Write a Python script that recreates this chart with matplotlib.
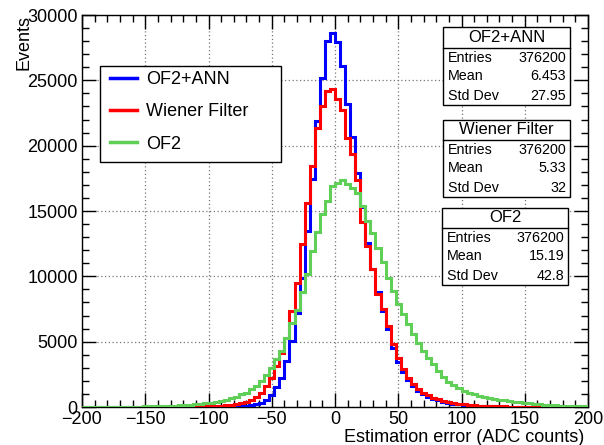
import numpy as np
import matplotlib
matplotlib.use("Agg")
import matplotlib.pyplot as plt
from matplotlib.patches import Rectangle
from matplotlib.lines import Line2D
from matplotlib.ticker import MultipleLocator

plt.rcParams['font.family'] = ['Liberation Sans', 'DejaVu Sans']

# 100 bins of width 4 from -200 to 200
edges = np.arange(-200, 201, 4)

ann = [0, 0, 0, 0, 0, 0, 0, 0, 0, 0,
       0, 0, 2, 2, 3, 3, 4, 5, 6, 7,
       9, 11, 13, 15, 18, 20, 24, 28, 32, 36,
       45, 60, 85, 130, 200, 330, 550, 950, 1500, 2250,
       3500, 5050, 7200, 9900, 13470, 17420, 21880, 25200, 28000, 28640,
       27900, 26100, 23200, 20700, 17900, 15300, 12570, 10560, 8770, 7350,
       5970, 4500, 3450, 2650, 2050, 1580, 1250, 980, 770, 620,
       510, 410, 330, 260, 210, 170, 140, 110, 90, 72,
       58, 47, 38, 31, 25, 20, 16, 13, 10, 8,
       6, 5, 4, 3, 2, 2, 1, 1, 1, 0]

wiener = [0, 0, 0, 0, 1, 1, 1, 2, 2, 3,
          3, 4, 5, 6, 7, 8, 10, 12, 14, 17,
          20, 25, 30, 38, 46, 56, 70, 90, 120, 160,
          220, 300, 410, 550, 750, 1100, 1610, 2240, 3140, 4150,
          5300, 7345, 9510, 12450, 15630, 18440, 21370, 23030, 24180, 24350,
          23540, 22700, 20600, 19330, 17400, 14180, 12300, 10560, 8640, 7500,
          6200, 4800, 3770, 2880, 2250, 1740, 1350, 1100, 890, 710,
          590, 460, 380, 300, 240, 200, 165, 135, 110, 90,
          75, 62, 51, 42, 35, 29, 24, 20, 16, 13,
          11, 9, 7, 6, 5, 4, 3, 2, 2, 1]

of2 = [10, 11, 12, 13, 14, 16, 18, 20, 22, 25,
       30, 35, 40, 46, 54, 63, 75, 90, 108, 130,
       150, 172, 200, 232, 270, 320, 390, 470, 560, 660,
       790, 960, 1100, 1340, 1600, 1990, 2450, 3000, 3700, 4300,
       5300, 6400, 7400, 8800, 10150, 11940, 13400, 14800, 15800, 16900,
       17160, 17340, 17090, 16780, 16400, 15400, 14230, 13310, 12190, 11090,
       9890, 8880, 7860, 7090, 6330, 5610, 4920, 4280, 3770, 3260,
       2750, 2300, 1950, 1650, 1420, 1250, 1100, 960, 860, 770,
       690, 620, 560, 500, 450, 400, 350, 310, 270, 235,
       200, 175, 150, 130, 110, 95, 80, 70, 60, 50]

labels = ["OF2+ANN", "Wiener Filter", "OF2"]
colors = ["#0000ff", "#ff0000", "#5fcf57"]

stat_entries = ["376200", "376200", "376200"]
stat_mean = ["6.453", "5.33", "15.19"]
stat_std = ["27.95", "32", "42.8"]

W, H = 604, 445
fig = plt.figure(figsize=(W / 100, H / 100), dpi=100)
ax = fig.add_axes([82 / W, 38 / H, 506 / W, 392 / H])

for vals, c in zip([ann, wiener, of2], colors):
    ax.stairs(vals, edges, color=c, lw=2.2, zorder=3)

ax.set_xlim(-200, 200)
ax.set_ylim(0, 30000)
ax.xaxis.set_major_locator(MultipleLocator(50))
ax.xaxis.set_minor_locator(MultipleLocator(10))
ax.yaxis.set_major_locator(MultipleLocator(5000))
ax.yaxis.set_minor_locator(MultipleLocator(1000))
ax.ticklabel_format(style='plain', useOffset=False)
ax.tick_params(which='both', direction='in', top=True, right=True,
               labelsize=13, width=1, pad=3, colors='black')
ax.tick_params(which='major', length=10)
ax.tick_params(which='minor', length=5)
ax.grid(which='major', linestyle=(0, (1, 2)), color='#777777', linewidth=0.9)
for s in ax.spines.values():
    s.set_linewidth(1)

fig.text(24 / W, 1 - 15 / H, "Events", rotation=90, ha='center', va='top', fontsize=13)
fig.text(584 / W, 1 - 437 / H, "Estimation error (ADC counts)", ha='right',
         va='center', fontsize=13)

# legend box
ax.add_patch(Rectangle((0.0356, 0.625), 0.3577, 0.245, transform=ax.transAxes,
                       facecolor='white', edgecolor='black', lw=1, zorder=4))
handles = [Line2D([], [], color=c, lw=2.5) for c in colors]
ax.legend(handles, labels, loc='upper left', bbox_to_anchor=(0.0553, 0.857),
          frameon=False, fontsize=13, handlelength=1.5, handletextpad=0.5,
          labelspacing=0.85, borderpad=0, borderaxespad=0)


def stats_box(title, entries, mean, std, left, right, top, sep, bottom):
    fx = lambda px: px / W
    fy = lambda py: 1 - py / H
    fig.add_artist(Rectangle((fx(left), fy(bottom)), (right - left) / W,
                             (bottom - top) / H, transform=fig.transFigure,
                             facecolor='white', edgecolor='black', lw=1, zorder=5))
    fig.add_artist(Line2D([fx(left), fx(right)], [fy(sep), fy(sep)],
                          transform=fig.transFigure, color='black', lw=1, zorder=6))
    fig.text(fx((left + right) / 2), fy((top + sep) / 2), title, ha='center',
             va='center', fontsize=12, zorder=7)
    rows = [("Entries", entries), ("Mean", mean), ("Std Dev", std)]
    for k, (name, val) in enumerate(rows):
        y = sep + (bottom - sep) * (k + 0.5) / 3
        fig.text(fx(left + 5), fy(y), name, ha='left', va='center', fontsize=10.3, zorder=7)
        fig.text(fx(right - 4), fy(y), val, ha='right', va='center', fontsize=10.3, zorder=7)


boxes = [(443, 570, 27, 48, 105), (443, 570, 120, 140, 197), (442, 568, 208, 228, 285)]
for i, b in enumerate(boxes):
    stats_box(labels[i], stat_entries[i], stat_mean[i], stat_std[i], *b)

fig.savefig("out.png", dpi=100)
